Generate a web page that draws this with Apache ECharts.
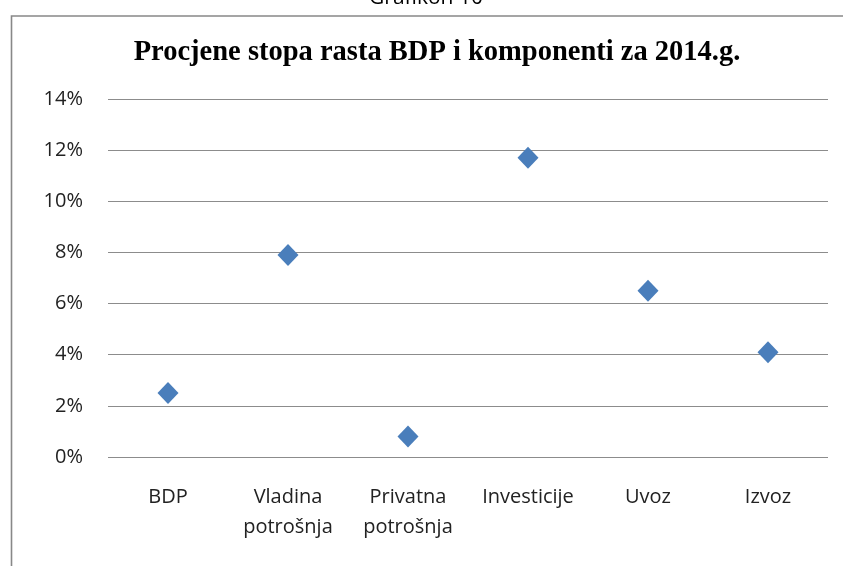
<!DOCTYPE html>
<html><head><meta charset="utf-8">
<script src="https://cdn.jsdelivr.net/npm/echarts@6/dist/echarts.min.js"></script>
<style>html,body{margin:0;padding:0;background:#fff}#c{width:843px;height:566px}</style>
</head><body><div id="c"></div>
<script>
const categories = ['BDP', 'Vladina\npotrošnja', 'Privatna\npotrošnja', 'Investicije', 'Uvoz', 'Izvoz'];
const growthRates = [2.5, 7.9, 0.8, 11.7, 6.5, 4.1];
const yTicks = [0, 2, 4, 6, 8, 10, 12, 14];
const titleText = 'Procjene stopa rasta BDP i komponenti za 2014.g.';
const captionText = 'Grafikon 10';

const chart = echarts.init(document.getElementById('c'), null, {renderer: 'canvas'});
const labelFont = '"Open Sans", sans-serif';
chart.setOption({
  animation: false,
  backgroundColor: '#fff',
  title: {
    text: titleText,
    left: 432, top: 33, textAlign: 'center',
    textStyle: {fontFamily: '"Liberation Serif", serif', fontWeight: 'bold', fontSize: 28.5, color: '#000'}
  },
  graphic: [
    {type: 'rect', shape: {x: 11.5, y: 16, width: 860, height: 580}, style: {fill: 'none', stroke: '#888888', lineWidth: 1.6}, z: -1},
    {type: 'text', x: 426, y: 9, style: {text: captionText, textAlign: 'center', textVerticalAlign: 'bottom', font: '21px "Open Sans", sans-serif', fill: '#000'}}
  ],
  grid: {left: 108, right: 15, top: 99, bottom: 109},
  xAxis: {
    type: 'category', data: categories, boundaryGap: true,
    axisLine: {show: false}, axisTick: {show: false},
    axisLabel: {margin: 25, fontFamily: labelFont, fontSize: 20, lineHeight: 30, color: '#222', interval: 0}
  },
  yAxis: {
    type: 'value', min: yTicks[0], max: yTicks[yTicks.length - 1], interval: 2,
    axisLine: {show: false}, axisTick: {show: false},
    splitLine: {lineStyle: {color: '#8c8c8c', width: 1}},
    axisLabel: {margin: 25, fontFamily: labelFont, fontSize: 20, color: '#222', formatter: v => v + '%'}
  },
  series: [{
    type: 'scatter', data: growthRates,
    symbol: 'diamond', symbolSize: [21, 22],
    itemStyle: {color: '#4A7EBB', opacity: 1}
  }]
});
</script></body></html>
